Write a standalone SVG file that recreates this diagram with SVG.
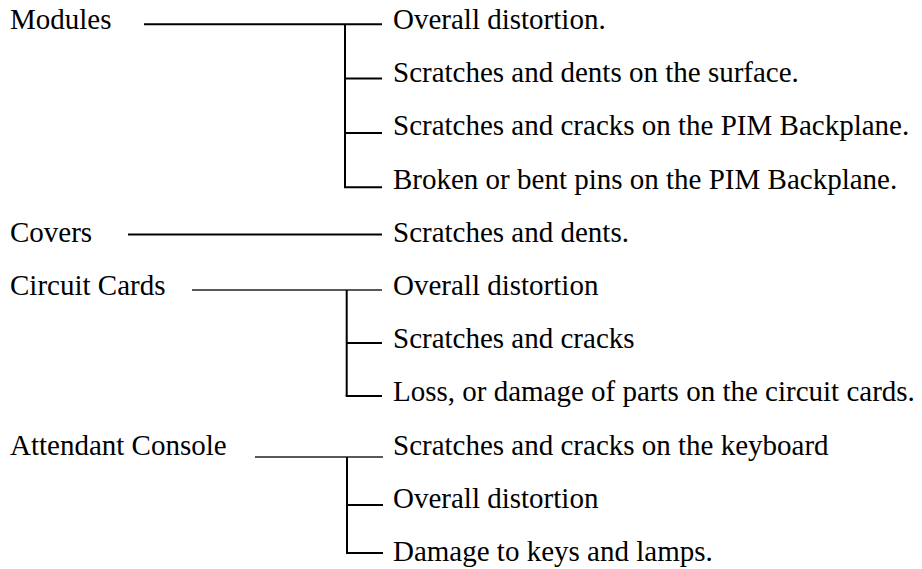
<svg xmlns="http://www.w3.org/2000/svg" width="922" height="569" viewBox="0 0 922 569">
<style>
text{font-family:"Liberation Serif","Times New Roman",serif;font-size:29px;fill:#000}
.c line{stroke:#000;stroke-width:2;fill:none}
.c line.thin{stroke:#222;stroke-width:1.3}
</style>
<rect width="922" height="569" fill="#fff"/>
<g class="c" id="connectors">
<line x1="144" y1="24.3" x2="382" y2="24.3"/>
<line x1="345" y1="24.3" x2="345" y2="187.3"/>
<line x1="345" y1="78.6" x2="382" y2="78.6"/>
<line x1="345" y1="132.9" x2="382" y2="132.9"/>
<line x1="344" y1="187.3" x2="382" y2="187.3"/>
<line x1="128" y1="234.5" x2="382" y2="234.5"/>
<line class="thin" x1="192" y1="290" x2="382" y2="290"/>
<line x1="346.7" y1="290" x2="346.7" y2="396"/>
<line x1="346.7" y1="343" x2="382" y2="343"/>
<line x1="345.7" y1="396" x2="382" y2="396"/>
<line class="thin" x1="255" y1="457" x2="383" y2="457"/>
<line x1="347" y1="457" x2="347" y2="553"/>
<line x1="347" y1="505" x2="383" y2="505"/>
<line x1="346" y1="553" x2="383" y2="553"/>
</g>
<g id="modules"><text x="10" y="29">Modules</text></g>
<g id="m1"><text x="393" y="29">Overall distortion.</text></g>
<g id="m2"><text x="393" y="82.2">Scratches and dents on the surface.</text></g>
<g id="m3"><text x="393" y="135.4">Scratches and cracks on the PIM Backplane.</text></g>
<g id="m4"><text x="393" y="188.6">Broken or bent pins on the PIM Backplane.</text></g>
<g id="covers"><text x="10" y="241.8">Covers</text></g>
<g id="cv1"><text x="393" y="241.8">Scratches and dents.</text></g>
<g id="circuit"><text x="10" y="295">Circuit Cards</text></g>
<g id="cc1"><text x="393" y="295">Overall distortion</text></g>
<g id="cc2"><text x="393" y="348.2">Scratches and cracks</text></g>
<g id="cc3"><text x="393" y="401.4">Loss, or damage of parts on the circuit cards.</text></g>
<g id="attendant"><text x="10" y="454.6">Attendant Console</text></g>
<g id="ac1"><text x="393" y="454.6">Scratches and cracks on the keyboard</text></g>
<g id="ac2"><text x="393" y="507.8">Overall distortion</text></g>
<g id="ac3"><text x="393" y="561">Damage to keys and lamps.</text></g>
</svg>
